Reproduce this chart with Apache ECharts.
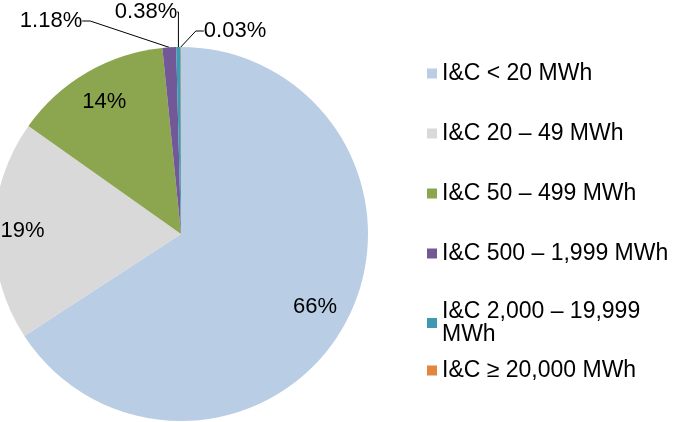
<!DOCTYPE html>
<html>
<head>
<meta charset="utf-8">
<script src="https://cdn.jsdelivr.net/npm/echarts@6/dist/echarts.min.js"></script>
<style>html,body{margin:0;padding:0;background:#fff}#c{width:680px;height:422px}</style>
</head>
<body>
<div id="c"></div>
<script>
const categories = ['I&C < 20 MWh', 'I&C 20 – 49 MWh', 'I&C 50 – 499 MWh', 'I&C 500 – 1,999 MWh', 'I&C 2,000 – 19,999 MWh', 'I&C ≥ 20,000 MWh'];
const shares = [65.8, 19.0, 13.6, 1.18, 0.38, 0.03];
const shareLabels = ['66%', '19%', '14%', '1.18%', '0.38%', '0.03%'];
const colors = ['#B9CDE5', '#D9D9D9', '#8CA64F', '#735898', '#3E9AB0', '#E3853D'];

const FONT = '"Liberation Sans", Arial, sans-serif';
const smallLabelPos = {3: [51, 21], 4: [146, 12], 5: [235, 31]};
const legendText = {fontFamily: FONT, fontSize: 23, lineHeight: 23, color: '#000', width: 238, overflow: 'break'};

const chart = echarts.init(document.getElementById('c'), null, {renderer: 'canvas'});
chart.setOption({
  animation: false,
  color: colors,
  legend: [{
    orient: 'vertical', left: 427, top: 62, padding: 0,
    itemWidth: 10, itemHeight: 10, itemGap: 37, icon: 'rect',
    data: categories.slice(0, 4),
    textStyle: legendText,
    selectedMode: false
  }, {
    orient: 'vertical', left: 427, top: 300, padding: 0,
    itemWidth: 10, itemHeight: 10, icon: 'rect',
    data: categories.slice(4, 5),
    textStyle: legendText,
    selectedMode: false
  }, {
    orient: 'vertical', left: 427, top: 359, padding: 0,
    itemWidth: 10, itemHeight: 10, icon: 'rect',
    data: categories.slice(5),
    textStyle: legendText,
    selectedMode: false
  }],
  series: [{
    type: 'pie',
    center: [181, 234], radius: 187,
    startAngle: 90, clockwise: true,
    avoidLabelOverlap: false,
    itemStyle: {borderWidth: 0},
    emphasis: {disabled: true},
    data: categories.map((n, i) => ({
      name: n, value: shares[i], itemStyle: {color: colors[i]},
      label: {show: i >= 3}, labelLine: {show: i >= 3}
    })),
    label: {
      position: 'outside', fontFamily: FONT, fontSize: 22, color: '#000',
      formatter: p => shareLabels[p.dataIndex]
    },
    labelLine: {length: 10, length2: 8, lineStyle: {color: '#000', width: 1}},
    labelLayout: p => {
      const pos = smallLabelPos[p.dataIndex];
      if (!pos) return {};
      return {x: pos[0], y: pos[1], align: 'center', verticalAlign: 'middle'};
    }
  }, {
    type: 'pie',
    center: [181, 234], radius: [112, 187],
    startAngle: 90, clockwise: true,
    silent: true,
    avoidLabelOverlap: false,
    emphasis: {disabled: true},
    itemStyle: {color: 'rgba(0,0,0,0)', borderWidth: 0},
    data: categories.map((n, i) => ({
      name: n, value: shares[i],
      label: {show: i < 3}
    })),
    label: {
      position: 'inside', fontFamily: FONT, fontSize: 22, color: '#000',
      formatter: p => shareLabels[p.dataIndex]
    },
    labelLine: {show: false},
    labelLayout: p => (p.dataIndex === 1 ? {dx: -6} : {})
  }]
});
</script>
</body>
</html>
